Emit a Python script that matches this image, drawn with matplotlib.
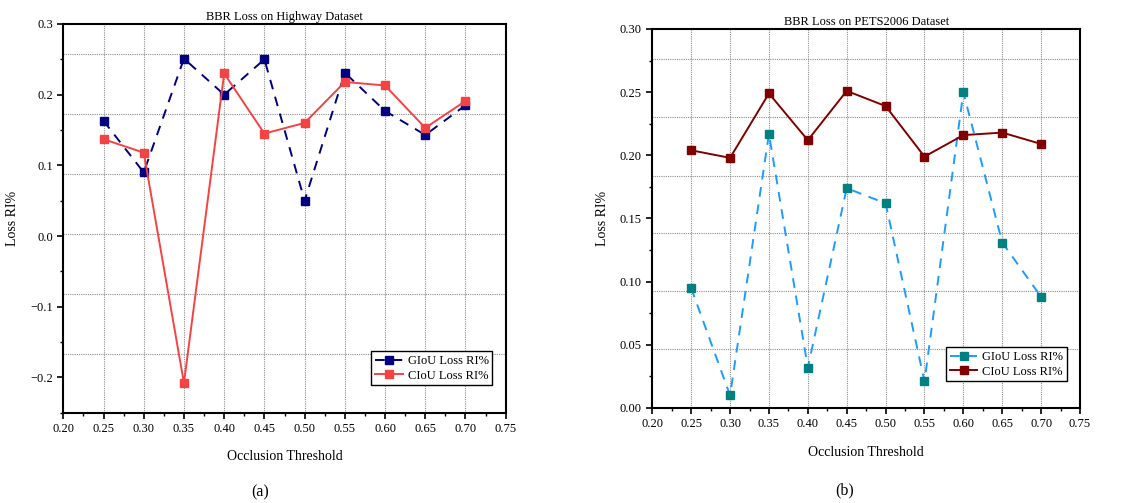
import matplotlib.pyplot as plt
from matplotlib.ticker import MultipleLocator, FormatStrFormatter, FuncFormatter

plt.rcParams['font.family'] = ['Liberation Serif', 'DejaVu Serif']

thr = [0.25, 0.30, 0.35, 0.40, 0.45, 0.50, 0.55, 0.60, 0.65, 0.70]

# (a) Highway
hw_giou = [0.163, 0.090, 0.251, 0.200, 0.250, 0.050, 0.231, 0.177, 0.143, 0.185]
hw_ciou = [0.137, 0.118, -0.208, 0.230, 0.145, 0.160, 0.218, 0.213, 0.153, 0.191]

# (b) PETS2006
pets_giou = [0.095, 0.010, 0.217, 0.032, 0.174, 0.162, 0.021, 0.250, 0.131, 0.088]
pets_ciou = [0.204, 0.198, 0.249, 0.212, 0.251, 0.239, 0.199, 0.216, 0.218, 0.209]

fig = plt.figure(figsize=(11.43, 5.03), dpi=100)
W, H = 1143, 503
ax1 = fig.add_axes([63.3 / W, 1 - 412.7 / H, (505.7 - 63.3) / W, (412.7 - 24) / H])
ax2 = fig.add_axes([652.3 / W, 1 - 408 / H, (1080 - 652.3) / W, (408 - 29) / H])


def style(ax, ylim, ymaj, ymin, ndec, hgrid):
    ax.set_xlim(0.20, 0.75)
    ax.set_ylim(*ylim)
    ax.xaxis.set_major_locator(MultipleLocator(0.05))
    ax.xaxis.set_minor_locator(MultipleLocator(0.025))
    ax.xaxis.set_major_formatter(FormatStrFormatter('%.2f'))
    ax.yaxis.set_major_locator(MultipleLocator(ymaj))
    ax.yaxis.set_minor_locator(MultipleLocator(ymin))
    ax.yaxis.set_major_formatter(FuncFormatter(
        lambda v, p: f'{v:.{ndec}f}'.replace('-', '\u2212') if abs(v) > 1e-9 else f'{0:.{ndec}f}'))
    ax.tick_params(which='major', direction='out', length=4, width=1.2, labelsize=9)
    ax.tick_params(which='minor', direction='out', length=2.5, width=1)
    ax.tick_params(top=False, right=False)
    for s in ax.spines.values():
        s.set_linewidth(1.5)
    # vertical grid at the data thresholds
    for x in thr:
        ax.axvline(x, color='#8c8c8c', lw=0.8, ls=(0, (1, 1)), zorder=0)
    for y in hgrid:
        ax.axhline(y, color='#8c8c8c', lw=0.8, ls=(0, (1, 1)), zorder=0)
    ax.set_xlabel('Occlusion Threshold', fontsize=10, labelpad=11)
    ax.set_ylabel('Loss RI%', fontsize=10, labelpad=8)


def legend(ax):
    leg = ax.legend(loc='lower right', bbox_to_anchor=(0.97, 0.07), fontsize=9,
                    fancybox=False, edgecolor='black', framealpha=1, borderpad=0.3,
                    handlelength=2.2, handletextpad=0.4, labelspacing=0.2,
                    borderaxespad=0, markerscale=1.1)
    leg.get_frame().set_linewidth(1)


style(ax1, (-0.25, 0.30), 0.1, 0.05, 1,
      [0.258, 0.173, 0.088, 0.003, -0.082, -0.167])
ax1.plot(thr, hw_giou, ls=(0, (5, 4)), color='#000080', lw=1.4,
         marker='s', ms=5.5, label='GIoU Loss RI%', zorder=3)
ax1.plot(thr, hw_ciou, ls='-', color='#F54242', lw=1.4,
         marker='s', ms=5.5, label='CIoU Loss RI%', zorder=3)
ax1.set_title('BBR Loss on Highway Dataset', fontsize=9, pad=3)
legend(ax1)

style(ax2, (0.0, 0.30), 0.05, 0.025, 2,
      [0.276, 0.230, 0.184, 0.1385, 0.0925, 0.0465])
ax2.plot(thr, pets_giou, ls=(0, (5, 4)), color='#1E9BFF', lw=1.4,
         marker='s', ms=5.5, mfc='#008080', mec='#008080',
         label='GIoU Loss RI%', zorder=3)
ax2.plot(thr, pets_ciou, ls='-', color='#800000', lw=1.4,
         marker='s', ms=5.5, label='CIoU Loss RI%', zorder=3)
ax2.set_title('BBR Loss on PETS2006 Dataset', fontsize=9, pad=3)
legend(ax2)

fig.text(260 / W, 1 - 492 / H, '(a)', ha='center', va='center', fontsize=11.5)
fig.text(845 / W, 1 - 490 / H, '(b)', ha='center', va='center', fontsize=11.5)

fig.savefig('out.png', dpi=100)
